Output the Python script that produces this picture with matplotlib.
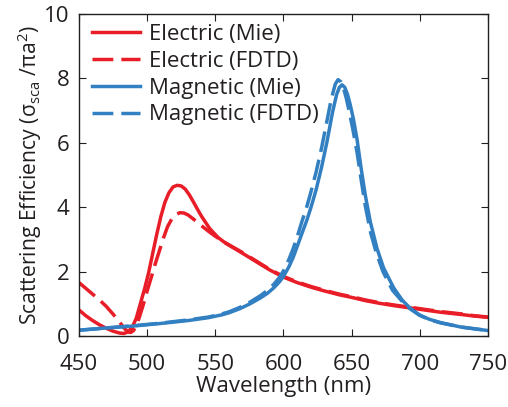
import matplotlib
matplotlib.use("Agg")
import matplotlib.pyplot as plt

plt.rcParams['font.family'] = ['Open Sans', 'DejaVu Sans']

# electric dipole, Mie
wl_e_mie = [450, 455, 460, 465, 470, 475, 480, 483, 486, 489, 492, 495, 498, 501, 504, 507,
            510, 513, 516, 519, 522, 525, 528, 531, 534, 537, 540, 546, 552, 558, 568, 575,
            583, 590, 600, 610, 620, 630, 641, 650, 660, 670, 680, 690, 700, 715, 730, 740, 750]
sca_e_mie = [0.81, 0.63, 0.48, 0.35, 0.24, 0.15, 0.09, 0.08, 0.13, 0.27, 0.55, 1.0, 1.45, 1.95,
             2.55, 3.15, 3.7, 4.15, 4.45, 4.63, 4.68, 4.66, 4.56, 4.38, 4.16, 3.93, 3.71, 3.33,
             3.06, 2.87, 2.62, 2.44, 2.23, 2.05, 1.83, 1.66, 1.52, 1.40, 1.28, 1.20, 1.10, 1.02,
             0.95, 0.89, 0.83, 0.74, 0.67, 0.62, 0.58]

# electric dipole, FDTD
wl_e_fdtd = [450, 455, 460, 465, 470, 475, 480, 483, 486, 488, 490, 492, 494, 497, 500, 503,
             506, 509, 512, 515, 518, 521, 524, 527, 530, 534, 540, 546, 552, 558, 568, 575,
             583, 590, 600, 610, 620, 630, 641, 650, 660, 670, 680, 690, 700, 715, 730, 740, 750]
sca_e_fdtd = [1.66, 1.48, 1.30, 1.12, 0.92, 0.68, 0.42, 0.25, 0.13, 0.11, 0.17, 0.32, 0.55,
              0.95, 1.40, 1.82, 2.25, 2.65, 3.05, 3.40, 3.63, 3.77, 3.83, 3.82, 3.76, 3.63,
              3.42, 3.22, 3.04, 2.88, 2.64, 2.46, 2.25, 2.07, 1.85, 1.68, 1.54, 1.42, 1.30,
              1.22, 1.12, 1.04, 0.97, 0.91, 0.85, 0.76, 0.69, 0.63, 0.59]

# magnetic dipole, Mie
wl_m_mie = [450, 470, 490, 510, 530, 545, 555, 560, 568, 575, 583, 588, 593, 597, 600, 604,
            607, 610, 613.5, 617, 620, 624, 628, 632, 636, 639, 641, 643, 645, 647, 649, 651.4,
            654, 657, 660, 663.7, 668.6, 673.4, 680.8, 687, 693, 700, 707, 715, 730, 750]
sca_m_mie = [0.18, 0.25, 0.31, 0.39, 0.48, 0.57, 0.66, 0.72, 0.85, 0.99, 1.18, 1.32, 1.50,
             1.68, 1.85, 2.15, 2.43, 2.77, 3.18, 3.58, 3.97, 4.55, 5.25, 6.05, 6.95, 7.50,
             7.72, 7.80, 7.72, 7.50, 7.18, 6.72, 6.10, 5.20, 4.38, 3.55, 2.72, 2.12, 1.50,
             1.12, 0.86, 0.65, 0.52, 0.42, 0.28, 0.17]

# magnetic dipole, FDTD
wl_m_fdtd = [450, 470, 490, 510, 530, 545, 555, 560, 568, 575, 583, 588, 593, 597, 600, 604,
             607, 610, 613.5, 617, 620, 624, 628, 632, 635, 638, 640, 642, 644, 646, 648, 651,
             654, 657, 660, 664, 668, 673, 680, 687, 693, 700, 707, 715, 730, 750]
sca_m_fdtd = [0.18, 0.25, 0.32, 0.40, 0.50, 0.59, 0.69, 0.75, 0.89, 1.04, 1.25, 1.41, 1.61,
              1.82, 2.02, 2.38, 2.70, 3.07, 3.55, 4.00, 4.45, 5.10, 5.85, 6.70, 7.35, 7.82,
              7.96, 7.90, 7.70, 7.40, 7.02, 6.40, 5.70, 4.85, 4.05, 3.20, 2.60, 2.00, 1.42,
              1.08, 0.84, 0.64, 0.51, 0.41, 0.28, 0.17]

red = '#E91D27'
blue = '#3280C1'
ink = '#231F20'

fig = plt.figure(figsize=(5.08, 4.07), dpi=100)
ax = fig.add_axes([0.1555, 0.1744, 0.805, 0.7912])

ax.plot(wl_e_mie, sca_e_mie, color=red, lw=2.5, label='Electric (Mie)')
ax.plot(wl_e_fdtd, sca_e_fdtd, color=red, lw=2.5, dashes=(6, 2.3), label='Electric (FDTD)')
ax.plot(wl_m_mie, sca_m_mie, color=blue, lw=2.5, label='Magnetic (Mie)')
ax.plot(wl_m_fdtd, sca_m_fdtd, color=blue, lw=2.5, dashes=(6, 2.3), label='Magnetic (FDTD)')

ax.set_xlim(450, 750)
ax.set_ylim(0, 10)
ax.set_xticks([450, 500, 550, 600, 650, 700, 750])
ax.set_yticks([0, 2, 4, 6, 8, 10])
ax.tick_params(direction='in', top=True, right=True, length=5, width=0.8,
               labelsize=16, colors=ink)
ax.tick_params(axis='x', pad=13)
ax.tick_params(axis='y', pad=7)
for s in ax.spines.values():
    s.set_linewidth(1.0)
    s.set_color(ink)

ax.set_xlabel('Wavelength (nm)', fontsize=16, color=ink, labelpad=1)
ax.set_ylabel('Scattering Efficiency (σ$_{\\mathregular{sca}}$ /πa$^{\\mathregular{2}}$)',
              fontsize=15.2, color=ink, labelpad=0)

leg = ax.legend(loc='upper left', frameon=False, fontsize=16, handlelength=2.15,
                handletextpad=0.4, labelspacing=0.26, borderaxespad=0.2,
                bbox_to_anchor=(0.0, 1.01))
for t in leg.get_texts():
    t.set_color(ink)

plt.savefig('out.png', dpi=100)
